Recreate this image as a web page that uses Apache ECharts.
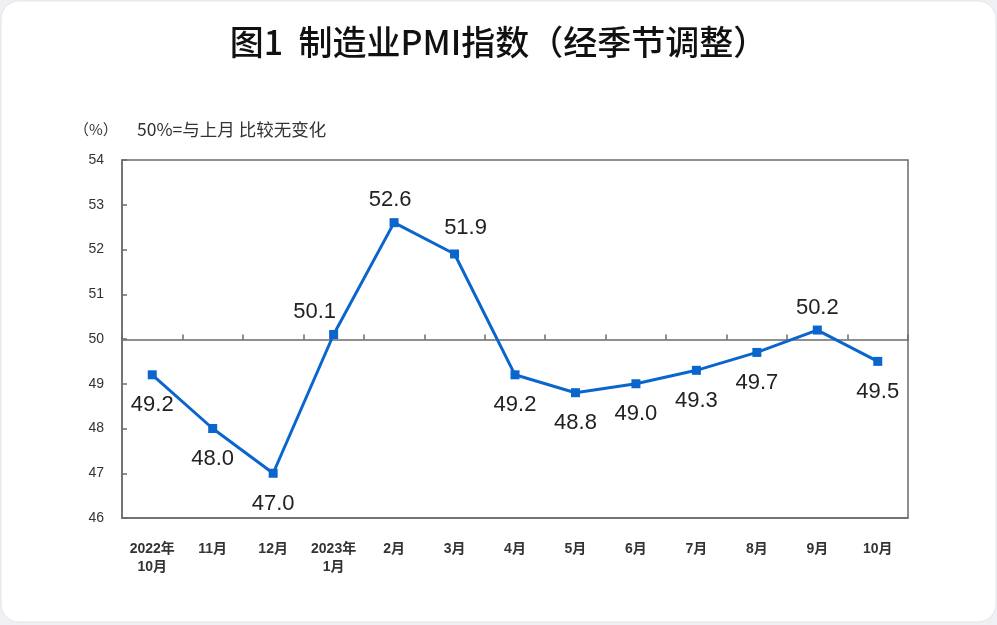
<!DOCTYPE html>
<html><head><meta charset="utf-8">
<script src="https://cdn.jsdelivr.net/npm/echarts@6/dist/echarts.min.js"></script>
<style>html,body{margin:0;padding:0;background:#eef0f3;}#c{width:997px;height:625px;}</style>
</head><body><div id="c"></div>
<script>
var categories = ['2022年\n10月','11月','12月','2023年\n1月','2月','3月','4月','5月','6月','7月','8月','9月','10月'];
var pmiValues = [49.2,48.0,47.0,50.1,52.6,51.9,49.2,48.8,49.0,49.3,49.7,50.2,49.5];
var yTicks = [46,47,48,49,50,51,52,53,54];
var titleText = '图1  制造业PMI指数（经季节调整）';
var unitText = '（%）';
var noteText = '50%=与上月 比较无变化';

var chart = echarts.init(document.getElementById('c'), null, {renderer:'canvas'});
var labelOffsets = {3:[-19,0], 4:[-4,0], 5:[11,-4]};
var aboveSet = {3:true,4:true,5:true,11:true};
var seriesData = pmiValues.map(function(v,i){
  var up = !!aboveSet[i];
  return {value:v, label:{position: up?'top':'bottom', distance: up?7:15, offset: labelOffsets[i]||[0,0]}};
});
var dark = '#6b6b6b';
chart.setOption({
  backgroundColor:'transparent',
  animation:false,
  graphic:[
    {type:'rect', z:-10, shape:{x:1,y:1,width:995,height:621,r:18}, style:{fill:'#ffffff', stroke:'#e3e5e9', lineWidth:1}},
    {type:'text', left:'center', top:25, style:{text:titleText, font:'500 34px "Noto Sans CJK SC"', fill:'#111'}},
    {type:'text', left:74, top:122, style:{text:unitText, font:'15px "Noto Sans CJK SC"', fill:'#333'}},
    {type:'text', left:137, top:121, style:{text:noteText, font:'17.5px "Noto Sans CJK SC"', fill:'#333'}}
  ],
  grid:[
    {left:122, top:160, width:786, height:358, show:true, borderColor:dark, borderWidth:1.5, containLabel:false},
    {left:122, top:160, width:786, height:179.5, show:false, containLabel:false}
  ],
  xAxis:[
    {type:'category', gridIndex:0, data:categories, boundaryGap:true,
     axisLine:{show:true, lineStyle:{color:dark, width:1.5}}, axisTick:{show:false},
     axisLabel:{interval:0, margin:22, fontSize:14, fontWeight:'bold', fontFamily:'"Liberation Sans","Noto Sans CJK SC"', color:'#333', lineHeight:18}},
    {type:'category', gridIndex:1, data:categories, boundaryGap:true, position:'bottom',
     axisLine:{show:true, lineStyle:{color:dark, width:1.5}},
     axisTick:{show:true, inside:true, length:5, interval:0, lineStyle:{color:dark, width:1.5}},
     axisLabel:{show:false}}
  ],
  yAxis:[
    {type:'value', gridIndex:0, min:46, max:54, interval:1,
     axisLine:{show:true, lineStyle:{color:dark, width:1.5}},
     axisTick:{show:true, inside:true, length:5, lineStyle:{color:dark, width:1.5}},
     splitLine:{show:false},
     axisLabel:{margin:18, fontSize:14, fontFamily:'"Liberation Sans","DejaVu Sans"', color:'#333',
       formatter:function(v){return yTicks.indexOf(v)>=0?String(v):'';}}},
    {type:'value', gridIndex:1, min:50, max:54, show:false}
  ],
  series:[{
    type:'line', xAxisIndex:0, yAxisIndex:0, data:seriesData,
    symbol:'rect', symbolSize:9,
    lineStyle:{color:'#0a66cc', width:3},
    itemStyle:{color:'#0a66cc'},
    label:{show:true, fontSize:22, fontFamily:'"Liberation Sans",Arial', color:'#222',
      formatter:function(p){return p.value.toFixed(1);}},
    z:5
  }]
});
</script></body></html>
